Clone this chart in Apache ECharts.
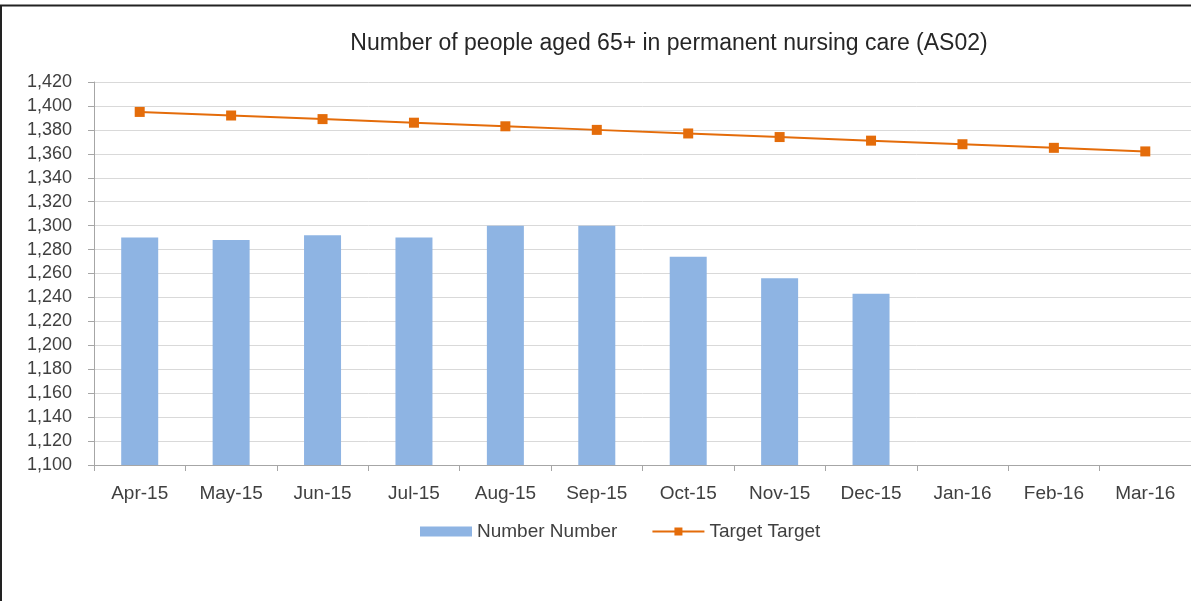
<!DOCTYPE html>
<html>
<head>
<meta charset="utf-8">
<script src="https://cdn.jsdelivr.net/npm/echarts@6/dist/echarts.min.js"></script>
<style>
html,body{margin:0;padding:0;background:#fff;}
#c{width:1191px;height:601px;}
</style>
</head>
<body>
<div id="c"></div>
<script>
const categories = ['Apr-15','May-15','Jun-15','Jul-15','Aug-15','Sep-15','Oct-15','Nov-15','Dec-15','Jan-16','Feb-16','Mar-16'];
const numberValues = [1290, 1288, 1292, 1290, 1300, 1300, 1274, 1256, 1243, null, null, null];
const targetValues = [1395, 1392, 1389, 1386, 1383, 1380, 1377, 1374, 1371, 1368, 1365, 1362];
const yTicks = {min: 1100, max: 1420, interval: 20};

const FONT = 'Liberation Sans';
const chart = echarts.init(document.getElementById('c'), null, {renderer: 'canvas'});
chart.setOption({
  animation: false,
  backgroundColor: '#fff',
  graphic: [
    {type: 'line', shape: {x1: 0, y1: 5.5, x2: 1191, y2: 5.5}, style: {stroke: '#222', lineWidth: 2}},
    {type: 'line', shape: {x1: 1, y1: 5, x2: 1, y2: 601}, style: {stroke: '#222', lineWidth: 2}}
  ],
  title: {
    text: 'Number of people aged 65+ in permanent nursing care (AS02)',
    left: 664, top: 27, textAlign: 'center',
    textStyle: {fontFamily: FONT, fontSize: 23, fontWeight: 'normal', color: '#262626'}
  },
  legend: {
    left: 415, top: 517,
    itemWidth: 52, itemHeight: 10, itemGap: 34,
    textStyle: {fontFamily: FONT, fontSize: 19, color: '#404040'},
    data: [{name: 'Number Number', icon: 'rect'}, {name: 'Target Target'}]
  },
  grid: {left: 94, top: 82, height: 383, width: 1106, containLabel: false},
  xAxis: {
    type: 'category', data: categories, boundaryGap: true,
    axisLine: {lineStyle: {color: '#a6a6a6', width: 1}},
    axisTick: {show: true, length: 6, lineStyle: {color: '#a6a6a6'}},
    axisLabel: {fontFamily: FONT, fontSize: 19, color: '#404040', margin: 19}
  },
  yAxis: {
    type: 'value', min: yTicks.min, max: yTicks.max, interval: yTicks.interval,
    axisLine: {show: true, lineStyle: {color: '#a6a6a6'}},
    axisTick: {show: true, length: 6, lineStyle: {color: '#a6a6a6'}},
    splitLine: {lineStyle: {color: '#d9d9d9'}},
    axisLabel: {
      fontFamily: FONT, fontSize: 18, color: '#404040', margin: 22,
      formatter: v => v.toLocaleString('en-US')
    }
  },
  series: [
    {
      name: 'Number Number', type: 'bar', data: numberValues,
      barWidth: 37,
      itemStyle: {color: '#8eb4e3'}
    },
    {
      name: 'Target Target', type: 'line', data: targetValues,
      symbol: 'rect', symbolSize: 10,
      lineStyle: {color: '#e46c0a', width: 2},
      itemStyle: {color: '#e46c0a'}
    }
  ]
});
</script>
</body>
</html>
